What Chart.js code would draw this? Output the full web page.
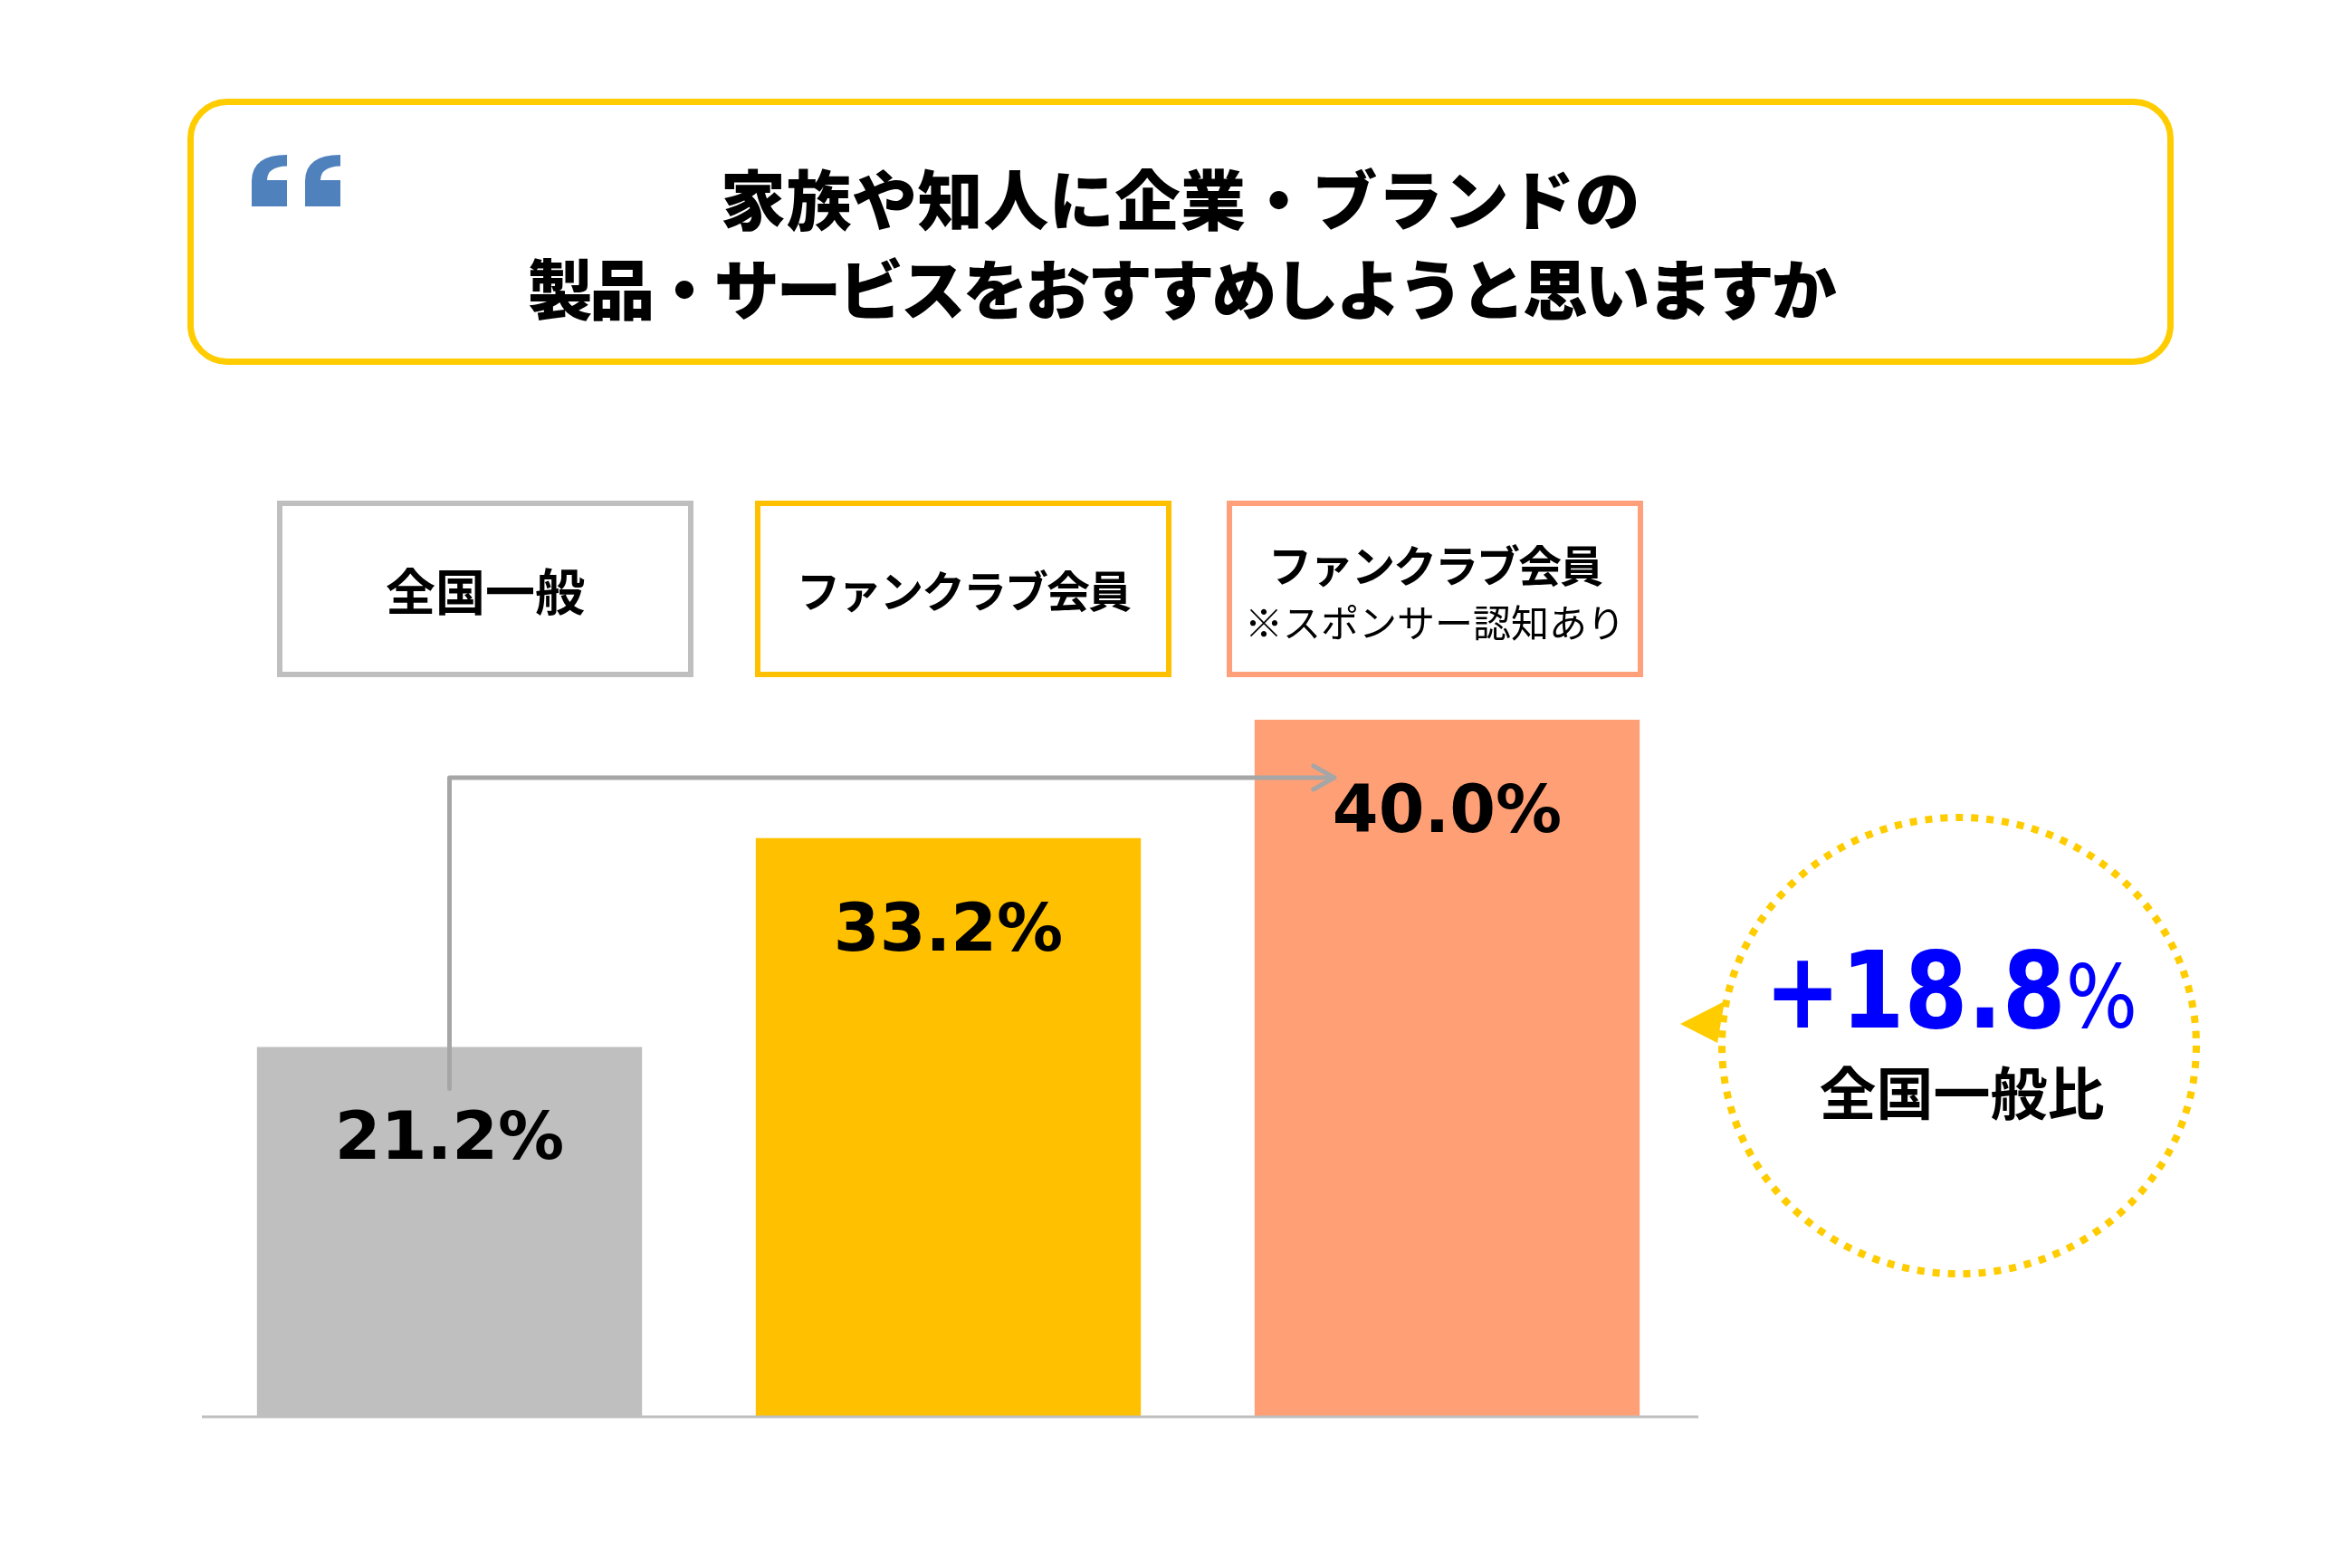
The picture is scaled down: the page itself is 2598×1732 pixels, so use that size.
<!DOCTYPE html>
<html lang="ja">
<head>
<meta charset="utf-8">
<script src="https://cdn.jsdelivr.net/npm/chart.js@4.4.0/dist/chart.umd.min.js"></script>
<style>
  body { margin: 0; background: #fff; }
  #page { position: relative; width: 2598px; height: 1732px; overflow: hidden; }
  #chart { position: absolute; left: 0; top: 0; }
  .box { position: absolute; box-sizing: border-box; }
  #titleBox { left: 207px; top: 109px; width: 2194px; height: 294px; border: 7px solid #FFCC00; border-radius: 44px; }
  .titleLine { position: absolute; left: 207px; width: 2194px; text-align: center; white-space: nowrap;
    font-family: "Noto Sans CJK JP"; font-weight: 900; font-size: 72px; line-height: 99px; color: #000; }
  #title1 { top: 167px; letter-spacing: 0.6px; }
  #title2 { top: 266px; letter-spacing: -3.3px; }
  .legend { top: 553px; width: 460px; height: 195px; border: 6px solid; display: flex; flex-direction: column;
    align-items: center; justify-content: center; font-family: "Noto Sans CJK JP"; color: #000; }
  .legend .main { font-weight: 700; font-size: 48px; letter-spacing: -2px; line-height: 63px; }
  .legend .sub { font-weight: 400; font-size: 42px; line-height: 63px; }
  #legend0 .main { font-size: 55px; letter-spacing: 0; }
  #diff { position: absolute; left: 1855px; width: 600px; top: 1027px; text-align: center; white-space: nowrap;
    color: #0000FF; font-family: "DejaVu Sans"; line-height: 136px; font-size: 117px;
    transform: scaleX(0.86); transform-origin: center; }
  #diff .num { font-weight: 700; font-size: 117px; }
  #diff .pct { font-weight: 400; font-size: 97px; }
  #diffLabel { position: absolute; left: 1967px; width: 400px; top: 1172px; text-align: center;
    font-family: "Noto Sans CJK JP"; font-weight: 700; font-size: 63px; line-height: 63px; color: #000; }
</style>
</head>
<body>
<div id="page">
  <canvas id="chart" width="2598" height="1732"></canvas>
  <div class="box" id="titleBox"></div>
  <div class="titleLine" id="title1">家族や知人に企業・ブランドの</div>
  <div class="titleLine" id="title2">製品・サービスをおすすめしようと思いますか</div>
  <div class="box legend" id="legend0" style="left:306px;"></div>
  <div class="box legend" id="legend1" style="left:834px;"></div>
  <div class="box legend" id="legend2" style="left:1355px; padding-top:6px;"></div>
  <div id="diff"><span class="num">+18.8</span><span class="pct">%</span></div>
  <div id="diffLabel">全国一般比</div>
</div>
<script>
const categories = ["全国一般", "ファンクラブ会員", "ファンクラブ会員"];
const subLabels = ["", "", "※スポンサー認知あり"];
const values = [21.2, 33.2, 40.0];
const barColors = ["#BFBFBF", "#FFC000", "#FF9F76"];
const legendBorders = ["#BFBFBF", "#FFC000", "#FFA07A"];

// legend boxes above the bars
for (let i = 0; i < categories.length; i++) {
  let box = document.getElementById("legend" + i);
  box.style.borderColor = legendBorders[i];
  box.innerHTML = `<div class="main">${categories[i]}</div>`;
  if (subLabels[i]) {
    box.innerHTML += `<div class="sub">${subLabels[i]}</div>`;
  }
}

const decorations = {
  id: "decorations",
  afterDatasetsDraw(chart) {
    const ctx = chart.ctx;
    const area = chart.chartArea;
    const bars = chart.getDatasetMeta(0).data;

    // baseline
    ctx.save();
    ctx.strokeStyle = "#BFBFBF";
    ctx.lineWidth = 3;
    ctx.beginPath();
    ctx.moveTo(area.left + 2, area.bottom + 1);
    ctx.lineTo(area.right + 2, area.bottom + 1);
    ctx.stroke();

    // value labels inside the bars
    ctx.fillStyle = "#000";
    ctx.font = "bold 73px 'DejaVu Sans'";
    ctx.textAlign = "center";
    ctx.textBaseline = "alphabetic";
    for (let i = 0; i < bars.length; i++) {
      ctx.fillText(values[i].toFixed(1) + "%", bars[i].x, bars[i].y + 124);
    }

    // connector from first bar to last bar
    let first = bars[0];
    let last = bars[bars.length - 1];
    let yTop = last.y + 64;
    let xEnd = last.x - last.width / 2 + 88;
    ctx.strokeStyle = "#A6A6A6";
    ctx.lineWidth = 5;
    ctx.lineCap = "round";
    ctx.lineJoin = "round";
    ctx.beginPath();
    ctx.moveTo(first.x, first.y + 46);
    ctx.lineTo(first.x, yTop);
    ctx.lineTo(xEnd, yTop);
    ctx.stroke();
    ctx.beginPath();
    ctx.moveTo(xEnd - 23, yTop - 13);
    ctx.lineTo(xEnd, yTop);
    ctx.lineTo(xEnd - 23, yTop + 13);
    ctx.stroke();

    // dotted circle with arrow
    ctx.strokeStyle = "#FFCC00";
    ctx.lineWidth = 8;
    ctx.lineCap = "butt";
    ctx.setLineDash([8, 9]);
    ctx.beginPath();
    ctx.ellipse(2164, 1155, 262, 252, 0, 0, Math.PI * 2);
    ctx.stroke();
    ctx.setLineDash([]);
    ctx.fillStyle = "#FFCC00";
    ctx.beginPath();
    ctx.moveTo(1856, 1131);
    ctx.lineTo(1905, 1106);
    ctx.lineTo(1897, 1152);
    ctx.closePath();
    ctx.fill();

    // quote marks in the title box
    ctx.fillStyle = "#4F81BD";
    [278, 337].forEach(function (x0) {
      ctx.beginPath();
      ctx.moveTo(x0, 228);
      ctx.lineTo(x0, 200);
      ctx.quadraticCurveTo(x0, 171, x0 + 39, 171);
      ctx.lineTo(x0 + 39, 183.5);
      ctx.quadraticCurveTo(x0 + 17, 184, x0 + 17, 199);
      ctx.lineTo(x0 + 39, 199);
      ctx.lineTo(x0 + 39, 228);
      ctx.closePath();
      ctx.fill();
    });
    ctx.restore();
  }
};

new Chart(document.getElementById("chart"), {
  type: "bar",
  data: {
    labels: categories,
    datasets: [
      {
        data: values,
        backgroundColor: barColors,
        borderWidth: 0,
        barPercentage: 0.772,
        categoryPercentage: 1,
      },
    ],
  },
  options: {
    responsive: false,
    animation: false,
    devicePixelRatio: 1,
    layout: {
      padding: { left: 221, right: 724, top: 795, bottom: 168 },
    },
    scales: {
      x: { display: false },
      y: { display: false, min: 0, max: 40 },
    },
    plugins: {
      legend: { display: false },
      tooltip: { enabled: false },
    },
  },
  plugins: [decorations],
});
</script>
</body>
</html>
